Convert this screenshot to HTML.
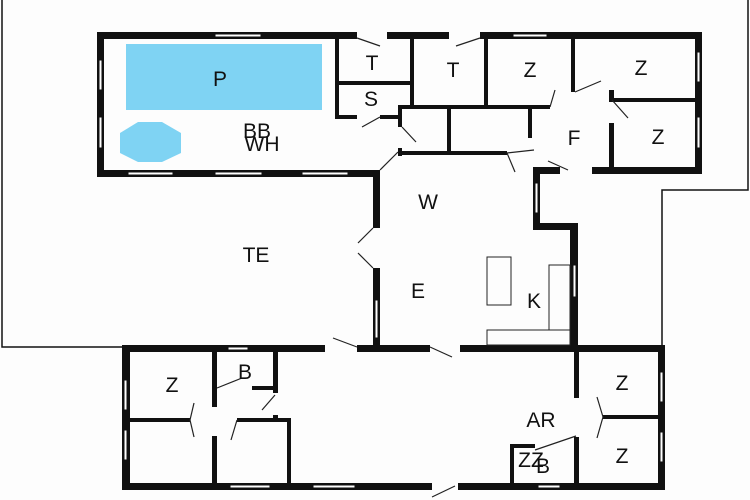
<!DOCTYPE html>
<html><head><meta charset="utf-8"><style>
html,body{margin:0;padding:0;background:#fff;}
svg{display:block;}
text{font-family:"Liberation Sans",sans-serif;font-size:21px;fill:#111;text-anchor:middle;}
</style></head><body>
<svg width="750" height="500" viewBox="0 0 750 500" xmlns="http://www.w3.org/2000/svg">
<rect width="750" height="500" fill="#fdfdfd"/>
<!-- thin outline -->
<g fill="none" stroke="#111" stroke-width="1.5">
<polyline points="2,0 2,347 122,347"/>
<polyline points="748,0 748,190 662,190 662,345"/>
</g>
<!-- pool -->
<rect x="126" y="44" width="196" height="66" fill="#7fd3f3"/>
<polygon points="138,122 162,122 181,133 181,153 162,162 138,162 120,153 120,133" fill="#7fd3f3"/>
<g fill="#111">
<!-- top block outer -->
<rect x="97" y="32" width="260" height="7"/>
<rect x="387" y="32" width="62" height="7"/>
<rect x="480" y="32" width="222" height="7"/>
<rect x="97" y="32" width="7" height="145"/>
<rect x="97" y="170" width="283" height="7"/>
<rect x="695" y="32" width="7" height="141"/>
<rect x="592" y="167" width="110" height="7"/>
<rect x="533" y="167" width="27" height="7"/>
<!-- top interior -->
<rect x="335" y="32" width="4" height="87"/>
<rect x="335" y="115" width="22" height="4"/>
<rect x="380" y="115" width="20" height="4"/>
<rect x="337" y="81" width="75" height="4"/>
<rect x="410" y="32" width="4" height="77"/>
<rect x="398" y="105" width="152" height="4"/>
<rect x="398" y="105" width="4" height="22"/>
<rect x="398" y="148" width="4" height="8"/>
<rect x="400" y="151" width="107" height="4"/>
<rect x="447" y="105" width="4" height="48"/>
<rect x="528" y="105" width="4" height="33"/>
<rect x="484" y="32" width="4" height="77"/>
<rect x="571" y="32" width="4" height="60"/>
<rect x="609" y="98" width="91" height="4"/>
<rect x="609" y="90" width="5" height="10"/>
<rect x="609" y="123" width="5" height="50"/>
<!-- middle -->
<rect x="373" y="170" width="7" height="58"/>
<rect x="373" y="268" width="7" height="82"/>
<rect x="533" y="167" width="7" height="60"/>
<rect x="533" y="223" width="45" height="7"/>
<rect x="570" y="223" width="8" height="127"/>
<!-- bottom block -->
<rect x="122" y="345" width="203" height="7"/>
<rect x="357" y="345" width="73" height="7"/>
<rect x="460" y="345" width="205" height="7"/>
<rect x="122" y="345" width="8" height="145"/>
<rect x="122" y="483" width="310" height="7"/>
<rect x="458" y="483" width="207" height="7"/>
<rect x="658" y="345" width="7" height="145"/>
<rect x="212" y="345" width="5" height="62"/>
<rect x="212" y="436" width="5" height="51"/>
<rect x="252" y="386" width="24" height="4"/>
<rect x="273" y="345" width="5" height="48"/>
<rect x="273" y="415" width="5" height="6"/>
<rect x="130" y="418" width="60" height="4"/>
<rect x="237" y="418" width="54" height="4"/>
<rect x="287" y="418" width="4" height="69"/>
<rect x="574" y="345" width="5" height="53"/>
<rect x="574" y="437" width="5" height="50"/>
<rect x="603" y="415" width="57" height="4"/>
<rect x="510" y="444" width="4" height="43"/>
<rect x="510" y="444" width="25" height="4"/>
</g>
<!-- windows -->
<g fill="#fff" stroke="#111" stroke-width="1">
<rect x="215" y="34" width="46" height="3"/>
<rect x="513" y="34" width="34" height="3"/>
<rect x="99" y="60" width="3" height="30"/>
<rect x="99" y="117" width="3" height="31"/>
<rect x="128" y="172" width="45" height="3"/>
<rect x="215" y="172" width="47" height="3"/>
<rect x="302" y="172" width="46" height="3"/>
<rect x="697" y="52" width="3" height="30"/>
<rect x="697" y="117" width="3" height="31"/>
<rect x="535" y="183" width="3" height="30"/>
<rect x="375" y="300" width="3" height="38"/>
<rect x="573" y="265" width="3" height="32"/>
<rect x="228" y="347" width="20" height="3"/>
<rect x="124" y="380" width="3" height="30"/>
<rect x="124" y="430" width="3" height="30"/>
<rect x="230" y="485" width="40" height="3"/>
<rect x="313" y="485" width="42" height="3"/>
<rect x="538" y="485" width="22" height="3"/>
<rect x="660" y="372" width="3" height="30"/>
<rect x="660" y="432" width="3" height="30"/>
</g>
<!-- kitchen -->
<g fill="none" stroke="#222" stroke-width="1">
<rect x="487" y="257" width="24" height="48"/>
<rect x="549" y="265" width="21" height="65"/>
<rect x="487" y="330" width="83" height="15"/>
</g>
<!-- door swings -->
<g stroke="#222" stroke-width="1.2" fill="none">
<line x1="357" y1="38" x2="380" y2="46"/>
<line x1="480" y1="38" x2="456" y2="46"/>
<line x1="380" y1="117" x2="362" y2="127"/>
<line x1="402" y1="127" x2="416" y2="142"/>
<line x1="398" y1="152" x2="380" y2="170"/>
<line x1="550" y1="107" x2="555" y2="90"/>
<line x1="575" y1="92" x2="601" y2="81"/>
<line x1="612" y1="100" x2="628" y2="118"/>
<line x1="507" y1="153" x2="534" y2="150"/>
<line x1="507" y1="153" x2="515" y2="172"/>
<line x1="568" y1="170" x2="548" y2="161"/>
<line x1="373" y1="228" x2="358" y2="243"/>
<line x1="373" y1="268" x2="358" y2="253"/>
<line x1="357" y1="347" x2="333" y2="338"/>
<line x1="430" y1="347" x2="452" y2="357"/>
<line x1="455" y1="486" x2="432" y2="497"/>
<line x1="217" y1="388" x2="242" y2="378"/>
<line x1="275" y1="395" x2="262" y2="410"/>
<line x1="190" y1="420" x2="194" y2="403"/>
<line x1="190" y1="420" x2="194" y2="437"/>
<line x1="237" y1="420" x2="231" y2="440"/>
<line x1="603" y1="417" x2="597" y2="397"/>
<line x1="603" y1="417" x2="597" y2="438"/>
<line x1="535" y1="450" x2="576" y2="436"/>
</g>
<!-- labels -->
<text x="220" y="86">P</text>
<text x="372" y="70">T</text>
<text x="453" y="77">T</text>
<text x="371" y="106">S</text>
<text x="530" y="77">Z</text>
<text x="641" y="75">Z</text>
<text x="658" y="144">Z</text>
<text x="574" y="145">F</text>
<text x="257" y="138">BB</text>
<text x="262" y="151">WH</text>
<text x="428" y="209">W</text>
<text x="256" y="262">TE</text>
<text x="418" y="298">E</text>
<text x="534" y="308">K</text>
<text x="172" y="392">Z</text>
<text x="245" y="379">B</text>
<text x="541" y="427">AR</text>
<text x="622" y="390">Z</text>
<text x="622" y="463">Z</text>
<text x="531" y="467">ZZ</text>
<text x="543" y="473">B</text>
</svg>
</body></html>
